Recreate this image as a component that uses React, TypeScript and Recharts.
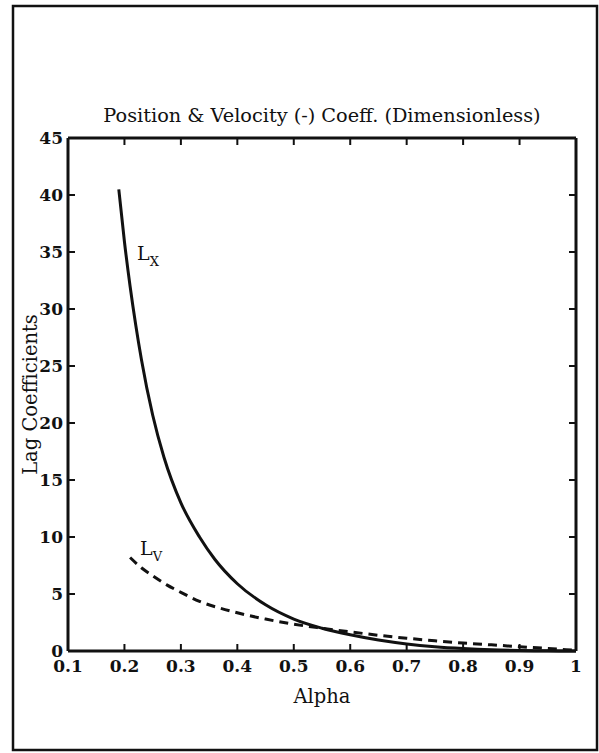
import { Line, LineChart, XAxis, YAxis } from "recharts";

// alpha values and lag coefficients
const lxAlpha = [0.19, 0.2, 0.21, 0.22, 0.23, 0.25, 0.27, 0.3, 0.333, 0.36, 0.4, 0.45, 0.5, 0.55, 0.6, 0.65, 0.7, 0.75, 0.8, 0.85, 0.9, 0.95, 1.0];
const lxValue = [40.5, 35.9, 32.0, 28.6, 25.6, 20.7, 17.0, 13.0, 10.0, 8.05, 5.9, 4.05, 2.8, 2.0, 1.42, 0.96, 0.62, 0.38, 0.22, 0.11, 0.05, 0.015, 0];

const lvAlpha = [0.21, 0.23, 0.25, 0.275, 0.3, 0.333, 0.37, 0.4, 0.45, 0.5, 0.55, 0.6, 0.65, 0.7, 0.75, 0.8, 0.85, 0.9, 0.95, 1.0];
const lvValue = [8.2, 7.3, 6.6, 5.8, 5.15, 4.35, 3.75, 3.35, 2.8, 2.35, 2.0, 1.68, 1.38, 1.12, 0.9, 0.7, 0.54, 0.38, 0.22, 0.06];

const xTicks = [0.1, 0.2, 0.3, 0.4, 0.5, 0.6, 0.7, 0.8, 0.9, 1];
const yTicks = [0, 5, 10, 15, 20, 25, 30, 35, 40, 45];

const lxData = lxAlpha.map((alpha, i) => ({ alpha, lag: lxValue[i] }));
const lvData = lvAlpha.map((alpha, i) => ({ alpha, lag: lvValue[i] }));

const FONT = "DejaVu Serif";
const INK = "#111";
const tickStyle = { fontFamily: FONT, fontSize: 17, fontWeight: 700, fill: INK };
const frame = { stroke: INK, strokeWidth: 3 };
const inTick = { stroke: INK, strokeWidth: 2 };
const noLabel = () => <g />;

export default function App() {
  return (
    <div style={{ position: "absolute", left: 0, top: 0, width: 599, height: 753, background: "#fff" }}>
      <LineChart width={599} height={753} margin={{ top: 138, right: 23, bottom: 72, left: 8 }}>
        <rect x={13} y={6} width={584} height={744} fill="none" stroke={INK} strokeWidth={2.5} />
        <text x={322} y={122} textAnchor="middle" fontFamily={FONT} fontSize={19.3} fill={INK}>
          Position &amp; Velocity (-) Coeff. (Dimensionless)
        </text>

        {/* bottom axis: labels outside, ticks drawn by the mirrored copy */}
        <XAxis
          xAxisId="b"
          type="number"
          dataKey="alpha"
          domain={[0.1, 1]}
          ticks={xTicks}
          height={30}
          tickSize={0}
          tickMargin={9}
          tick={tickStyle}
          tickFormatter={(v: number) => (v === 1 ? "1" : v.toFixed(1))}
          axisLine={frame}
          tickLine={false}
          allowDataOverflow
          label={{ value: "Alpha", position: "bottom", offset: 8, fontFamily: FONT, fontSize: 19.5, fill: INK }}
        />
        <XAxis
          xAxisId="bm"
          type="number"
          dataKey="alpha"
          domain={[0.1, 1]}
          ticks={xTicks}
          interval={0}
          mirror
          height={8}
          tick={noLabel}
          tickSize={7}
          axisLine={false}
          tickLine={inTick}
          allowDataOverflow
        />
        <XAxis
          xAxisId="t"
          orientation="top"
          type="number"
          dataKey="alpha"
          domain={[0.1, 1]}
          ticks={xTicks}
          interval={0}
          mirror
          height={8}
          tick={noLabel}
          tickSize={7}
          axisLine={frame}
          tickLine={inTick}
          allowDataOverflow
        />

        {/* left axis: labels outside, ticks drawn by the mirrored copy */}
        <YAxis
          yAxisId="l"
          type="number"
          domain={[0, 45]}
          ticks={yTicks}
          width={60}
          tickSize={0}
          tickMargin={5}
          tick={tickStyle}
          axisLine={frame}
          tickLine={false}
          label={{
            content: ({ viewBox }: any) => (
              <text
                x={viewBox.x + 23}
                y={viewBox.y + viewBox.height / 2}
                transform={`rotate(-90, ${viewBox.x + 23}, ${viewBox.y + viewBox.height / 2})`}
                textAnchor="middle"
                dominantBaseline="middle"
                fontFamily={FONT}
                fontSize={19.5}
                fill={INK}
              >
                Lag Coefficients
              </text>
            ),
          }}
        />
        <YAxis
          yAxisId="lm"
          type="number"
          domain={[0, 45]}
          ticks={yTicks}
          interval={0}
          mirror
          width={8}
          tick={noLabel}
          tickSize={7}
          axisLine={false}
          tickLine={inTick}
          allowDataOverflow
        />
        <YAxis
          yAxisId="r"
          orientation="right"
          type="number"
          domain={[0, 45]}
          ticks={yTicks}
          interval={0}
          mirror
          width={8}
          tick={noLabel}
          tickSize={7}
          axisLine={frame}
          tickLine={inTick}
          allowDataOverflow
        />

        {/* invisible copies so the tick-only axes get a scale */}
        <Line xAxisId="bm" yAxisId="lm" data={lxData} dataKey="lag" stroke="none" dot={false} activeDot={false} isAnimationActive={false} />
        <Line xAxisId="t" yAxisId="r" data={lxData} dataKey="lag" stroke="none" dot={false} activeDot={false} isAnimationActive={false} />

        <Line
          xAxisId="b"
          yAxisId="l"
          data={lxData}
          dataKey="lag"
          type="monotone"
          stroke={INK}
          strokeWidth={3}
          dot={false}
          isAnimationActive={false}
        />
        <Line
          xAxisId="b"
          yAxisId="l"
          data={lvData}
          dataKey="lag"
          type="monotone"
          stroke={INK}
          strokeWidth={3}
          strokeDasharray="9 6"
          dot={false}
          isAnimationActive={false}
        />
        <text x={137} y={260} fontFamily={FONT} fontSize={19} fill={INK}>
          L<tspan fontSize={13} dy={6}>X</tspan>
        </text>
        <text x={140} y={555} fontFamily={FONT} fontSize={19} fill={INK}>
          L<tspan fontSize={13} dy={6}>V</tspan>
        </text>
      </LineChart>
    </div>
  );
}
